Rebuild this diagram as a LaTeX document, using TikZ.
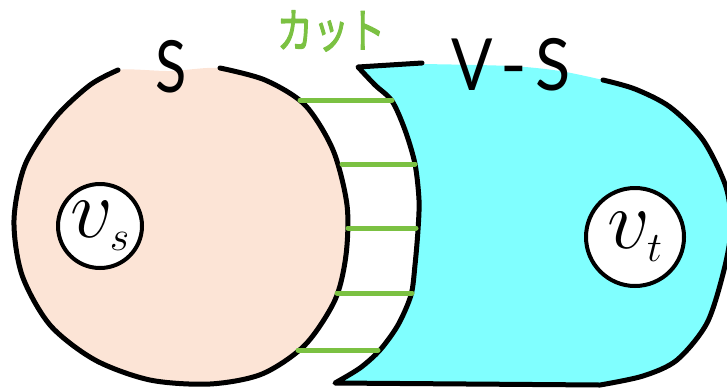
\RequirePackage{fix-cm}
\documentclass[tikz,border=0pt]{standalone}
\usepackage{fontspec}
\usetikzlibrary{positioning}
\newfontfamily\handfont{Lato}
\newfontfamily\jpfont[FakeBold=2.5]{Noto Sans CJK JP}
\definecolor{peach}{HTML}{FCE4D6}
\definecolor{aqua}{HTML}{80FFFF}
\definecolor{cutgreen}{HTML}{7BC142}
\newcommand{\vname}[1]{$v_{\scriptscriptstyle #1}$}

\begin{document}
\begin{tikzpicture}[x=1pt,y=-1pt,line cap=round,line join=round,
  outline/.style={draw=black,line width=5pt},
  cut/.style={draw=cutgreen,line width=5pt},
  vertex/.style={circle,draw,fill=white,line width=4pt,inner sep=0pt,font=\fontsize{84}{84}\selectfont},
  setlabel/.style={font=\handfont\fontsize{72}{72}\selectfont,inner sep=0pt},
  cutlabel/.style={font=\jpfont\fontsize{38}{38}\selectfont,text=cutgreen,inner sep=0pt}]
\clip (0,0) rectangle (727,389);
\fill[peach] plot[smooth cycle] coordinates {(170,71) (220,68) (265,80) (305,105) (333,150) (347,205)
  (346,255) (335,300) (305,345) (262,374) (210,384) (150,380) (95,360) (50,325) (22,275) (14,220)
  (25,165) (55,118) (90,85) (118,70)};
\draw[outline] plot[smooth] coordinates {(220,68) (265,80) (305,105) (333,150) (347,205)
  (346,255) (335,300) (305,345) (262,374) (210,384) (150,380) (95,360) (50,325) (22,275) (14,220)
  (25,165) (55,118) (90,85) (118,70)};
\fill[aqua] plot[smooth] coordinates {(358,67) (375,85) (392,101) (405,130) (415,164) (419,200)
  (418,230) (415,265) (411,295) (398,325) (380,350) (360,368) (335,383)}
  -- plot[smooth] coordinates {(600,385) (643,376) (677,360) (707,323) (724,270) (731,228)
  (726,187) (703,140) (670,107) (635,89) (603,80)}
  -- plot[smooth] coordinates {(603,80) (560,71) (510,66) (422,64)} -- cycle;
\draw[outline] (422,63) -- plot[smooth] coordinates {(358,67) (375,85) (392,101) (405,130)
  (415,164) (419,200) (418,230) (415,265) (411,295) (398,325) (380,350) (360,368) (335,383)}
  -- plot[smooth] coordinates {(600,385) (643,376) (677,360) (707,323) (724,270) (731,228)
  (726,187) (703,140) (670,107) (635,89) (603,80)};
\foreach \i/\y/\xa/\xb in {1/100/300/392,2/164/342/415,3/228/348/416,4/293/337/412,5/350/298/378}{
  \coordinate (l\i) at (\xa,\y);
  \coordinate (r\i) at (\xb,\y);
  \draw[cut] (l\i) -- (r\i);
}
\node[setlabel] (labS) at (171,67) {\scalebox{0.8}[1]{S}};
\node[setlabel] (labVS) at (511,65) {\scalebox{0.85}[1]{V}\kern8pt-\kern8pt\scalebox{0.9}[1]{S}};
\node[cutlabel] (labcut) at (331,31) {\scalebox{0.95}[1.25]{カット}};
\node[vertex,minimum size=84pt] (vs) at (100,226) {\vname{s}};
\node[vertex,minimum size=98pt] (vt) at (635,237) {\vname{t}};
\end{tikzpicture}
\end{document}
